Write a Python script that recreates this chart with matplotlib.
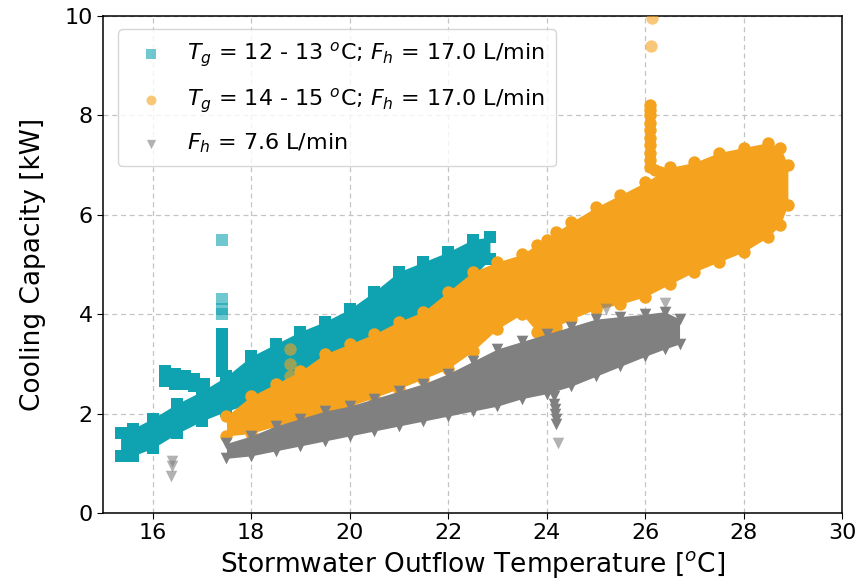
import numpy as np
import matplotlib
matplotlib.use('Agg')
import matplotlib.pyplot as plt

plt.rcParams['font.family'] = ['DejaVu Sans']
plt.rcParams['font.size'] = 16
plt.rcParams['mathtext.fontset'] = 'dejavusans'

COLORS = {
    'teal': '#0fa3b1',
    'orange': '#f5a31e',
    'grey': '#808080',
}

# teal band (T_g = 12-13 C, F_h = 17.0 L/min): envelope
teal_x = [15.35, 15.6, 16.0, 16.5, 17.0, 17.5, 18.0, 18.5, 19.0, 19.5, 20.0,
          20.5, 21.0, 21.5, 22.0, 22.5, 22.85]
teal_lo = [1.15, 1.15, 1.3, 1.6, 1.85, 2.05, 2.2, 2.45, 2.7, 2.95, 3.2,
           3.45, 3.65, 3.85, 4.3, 4.75, 5.1]
teal_hi = [1.6, 1.7, 1.9, 2.2, 2.45, 2.75, 3.15, 3.4, 3.65, 3.85, 4.1,
           4.45, 4.85, 5.05, 5.25, 5.5, 5.55]
# dense side arm and spike
teal_ax = [16.25, 16.45, 16.65, 16.85, 17.05, 16.25, 16.45, 16.65, 16.85,
           17.4, 17.4, 17.4, 17.4, 17.4, 17.4, 17.4, 17.4]
teal_ay = [2.85, 2.8, 2.75, 2.7, 2.6, 2.65, 2.6, 2.6, 2.55,
           2.85, 2.95, 3.05, 3.15, 3.25, 3.35, 3.45, 3.6]
# loose points
teal_px = [17.4, 17.4, 17.4, 17.4]
teal_py = [4.0, 4.1, 4.3, 5.5]

# orange band (T_g = 14-15 C, F_h = 17.0 L/min)
orange_x = [17.5, 18.0, 18.5, 19.0, 19.5, 20.0, 20.5, 21.0, 21.5, 22.0, 22.5,
            23.0, 23.5, 23.8, 24.0, 24.2, 24.5, 25.0, 25.5, 26.0, 26.5, 27.0,
            27.5, 28.0, 28.5, 28.75, 28.9]
orange_lo = [1.55, 1.6, 1.75, 1.88, 2.02, 2.15, 2.32, 2.5, 2.7, 2.9, 3.25,
             3.7, 4.0, 3.65, 3.6, 3.75, 3.9, 4.1, 4.2, 4.35, 4.6, 4.85,
             5.05, 5.25, 5.55, 5.8, 6.2]
orange_hi = [1.95, 2.35, 2.6, 2.85, 3.2, 3.4, 3.6, 3.85, 4.05, 4.45, 4.85,
             5.05, 5.2, 5.4, 5.5, 5.65, 5.85, 6.15, 6.4, 6.65, 6.95, 7.05,
             7.25, 7.35, 7.45, 7.35, 7.0]
orange_ax = [26.1, 26.1, 26.1, 26.1, 26.1, 26.1, 26.1, 26.1, 26.1, 26.1, 26.2, 26.3]
orange_ay = [6.95, 7.1, 7.25, 7.4, 7.55, 7.7, 7.85, 8.0, 8.1, 8.2, 6.9, 6.85]
orange_px = [26.12, 26.15, 18.8, 18.8, 18.8]
orange_py = [9.4, 9.95, 3.3, 3.0, 2.75]

# grey band (F_h = 7.6 L/min)
grey_x = [17.5, 18.0, 18.5, 19.0, 19.5, 20.0, 20.5, 21.0, 21.5, 22.0, 22.5,
          23.0, 23.5, 24.0, 24.5, 25.0, 25.5, 26.0, 26.4, 26.7]
grey_lo = [1.1, 1.15, 1.25, 1.35, 1.45, 1.55, 1.65, 1.75, 1.85, 1.95, 2.05,
           2.15, 2.3, 2.4, 2.55, 2.75, 2.95, 3.15, 3.3, 3.4]
grey_hi = [1.4, 1.55, 1.75, 1.9, 2.05, 2.15, 2.3, 2.45, 2.6, 2.8, 3.05,
           3.3, 3.45, 3.6, 3.75, 3.9, 3.95, 4.0, 4.05, 3.9]
grey_ax = [24.15, 24.15, 24.17, 24.17, 24.2, 24.2]
grey_ay = [2.35, 2.2, 2.1, 2.0, 1.9, 1.8]
grey_px = [16.4, 16.4, 16.38, 24.23, 25.2, 26.4]
grey_py = [1.05, 0.95, 0.75, 1.4, 4.1, 4.22]

fig, ax = plt.subplots(figsize=(8.61, 5.85), dpi=100)
fig.subplots_adjust(left=0.12, right=0.978, bottom=0.123, top=0.973)


def draw_band(x, lo, hi, xa, ya, px, py, color, marker, s, label, z):
    ax.fill_between(x, lo, hi, color=color, linewidth=0, zorder=z)
    ax.scatter(x, lo, s=s, marker=marker, color=color, linewidths=0, zorder=z)
    ax.scatter(x, hi, s=s, marker=marker, color=color, linewidths=0, zorder=z)
    ax.scatter(xa, ya, s=s, marker=marker, color=color, linewidths=0, zorder=z)
    ax.scatter(px, py, s=s, marker=marker, color=color, alpha=0.6,
               linewidths=0, zorder=z, label=label)


draw_band(teal_x, teal_lo, teal_hi, teal_ax, teal_ay, teal_px, teal_py,
          COLORS['teal'], 's', 70,
          r'$T_g$ = 12 - 13 $^o$C; $F_h$ = 17.0 L/min', 2)
draw_band(orange_x, orange_lo, orange_hi, orange_ax, orange_ay, orange_px, orange_py,
          COLORS['orange'], 'o', 80,
          r'$T_g$ = 14 - 15 $^o$C; $F_h$ = 17.0 L/min', 3)
draw_band(grey_x, grey_lo, grey_hi, grey_ax, grey_ay, grey_px, grey_py,
          COLORS['grey'], 'v', 70,
          r'$F_h$ = 7.6 L/min', 4)

ax.set_xlim(15, 30)
ax.set_ylim(0, 10)
ax.set_xticks([16, 18, 20, 22, 24, 26, 28, 30])
ax.set_yticks([0, 2, 4, 6, 8, 10])
ax.grid(True, linestyle=(0, (4, 3)), color='#c4c4c4', linewidth=0.9)
ax.set_axisbelow(True)
for sp in ax.spines.values():
    sp.set_linewidth(1.1)
ax.tick_params(labelsize=16, length=4)
ax.set_xlabel('Stormwater Outflow Temperature [$^o$C]', fontsize=19)
ax.set_ylabel('Cooling Capacity [kW]', fontsize=19)
ax.yaxis.set_label_coords(-0.078, 0.5)

leg = ax.legend(loc='upper left', fontsize=16, handletextpad=0.6, borderpad=0.5,
                labelspacing=0.75, framealpha=0.8, markerscale=0.8,
                bbox_to_anchor=(0.005, 0.995))

plt.savefig('out.png', dpi=100)
plt.close()
